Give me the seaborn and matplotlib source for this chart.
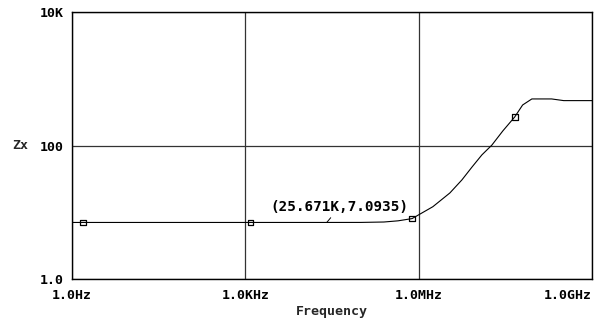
import matplotlib
matplotlib.use("Agg")
import matplotlib.pyplot as plt
import seaborn as sns
import pandas as pd

# Impedance magnitude Zx versus frequency (log-log sweep)
freq_hz = [1, 1e3, 25.671e3, 1e5, 2.5e5, 4.4e5, 7.7e5, 1.76e6, 3.47e6, 5.6e6,
           8.4e6, 12.4e6, 18.5e6, 28.6e6, 46e6, 63e6, 91e6, 200e6, 324e6, 1e9]
zx_ohm = [7.09, 7.09, 7.0935, 7.10, 7.2, 7.5, 8.1, 12.2, 19.6, 30.7,
          48, 72.6, 102, 166, 269, 406, 500, 500, 472, 472]

# Trace marker symbols placed along the curve
marker_freq = [1.55, 1.23e3, 7.63e5, 46e6]
marker_zx = [7.09, 7.09, 8.1, 269]

# Cursor readout
cursor_freq = 25.671e3
cursor_zx = 7.0935
cursor_text = "(25.671K,7.0935)"

x_ticks = [1, 1e3, 1e6, 1e9]
x_tick_labels = ["1.0Hz", "1.0KHz", "1.0MHz", "1.0GHz"]
y_ticks = [1, 100, 1e4]
y_tick_labels = ["1.0", "100", "10K"]

sns.set_style("white")
plt.rcParams["font.family"] = ["DejaVu Sans Mono", "DejaVu Sans"]
plt.rcParams["font.weight"] = "bold"

fig = plt.figure(figsize=(6.05, 3.24), dpi=100)
ax = fig.add_axes([72 / 605, 1 - 279.3 / 324, 520 / 605, 267.3 / 324])

curve = pd.DataFrame({"Frequency": freq_hz, "Zx": zx_ohm})
marks = pd.DataFrame({"Frequency": marker_freq, "Zx": marker_zx})

sns.lineplot(data=curve, x="Frequency", y="Zx", ax=ax, color="black",
             linewidth=0.8, sort=False, zorder=3)
sns.scatterplot(data=marks, x="Frequency", y="Zx", ax=ax, marker="s", s=16,
                facecolor="none", edgecolor="black", linewidth=0.9, zorder=4)

ax.set_xscale("log")
ax.set_yscale("log")
ax.set_xlim(1, 1e9)
ax.set_ylim(1, 1e4)
ax.set_xticks(x_ticks)
ax.set_xticklabels(x_tick_labels)
ax.set_yticks(y_ticks)
ax.set_yticklabels(y_tick_labels)
ax.minorticks_off()

ax.tick_params(axis="both", direction="out", length=4, width=1, color="black",
               labelsize=9.5, labelcolor="black")
ax.tick_params(axis="x", pad=3)
ax.tick_params(axis="y", pad=2)
# the last frequency label sits flush with the right edge of the plot
ax.get_xticklabels()[-1].set_horizontalalignment("right")

for sp in ax.spines.values():
    sp.set_color("black")
    sp.set_linewidth(1.0)

ax.grid(True, which="major", color="#333333", linewidth=0.9)

ax.set_xlabel("Frequency", fontsize=9.5, fontweight="bold", labelpad=2)
ax.set_ylabel("Zx", fontsize=9.5, fontweight="bold", rotation=0, va="center", ha="center")
ax.yaxis.set_label_coords(-0.099, 0.5)

ax.annotate(cursor_text, xy=(cursor_freq, cursor_zx), xytext=(9, 10.8),
            textcoords="offset points", ha="center", va="center",
            fontsize=10.3, fontweight="bold", color="black",
            arrowprops=dict(arrowstyle="-", color="black", lw=0.7,
                            shrinkA=0, shrinkB=0))

fig.savefig("out.png", dpi=100, facecolor="white")
